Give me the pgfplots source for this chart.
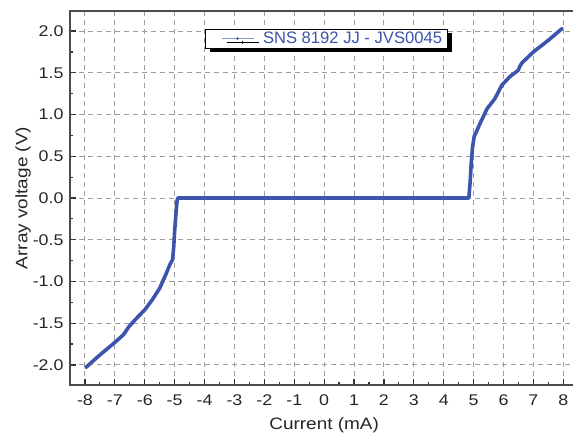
\documentclass[border=0pt]{standalone}
\usepackage{fontspec}
\setmainfont{Liberation Sans}[FakeStretch=1.15]
\newfontfamily\legfont{Liberation Sans}
\usepackage{pgfplots}
\pgfplotsset{compat=1.18}
\usetikzlibrary{shadows}
\definecolor{lineblue}{RGB}{60,84,172}
\begin{document}
\begin{tikzpicture}
\begin{axis}[name=ax,
  scale only axis, width=508.3pt, height=374pt,
  xmin=-8.5, xmax=8.5, ymin=-2.24, ymax=2.24,
  xtick={-8,-7,...,8}, ytick={-2,-1.5,...,2},
  minor x tick num=1, minor y tick num=1,
  tick pos=left, tick align=inside,
  major tick length=6pt, minor tick length=3pt,
  every tick/.style={black!80, line width=1.2pt},
  axis line style={draw=black!70, line width=1.5pt},
  grid=major,
  major grid style={draw=black!38, line width=1pt, dash pattern=on 5pt off 4pt},
  /pgf/number format/assume math mode=true,
  yticklabel style={/pgf/number format/fixed, /pgf/number format/fixed zerofill, /pgf/number format/precision=1, xshift=-3pt},
  xticklabel style={yshift=-6pt},
  tick label style={font=\fontsize{15.5}{18}\selectfont, text=black!85},
  label style={font=\fontsize{16.5}{19}\selectfont, text=black!85},
  xlabel={Current (mA)}, ylabel={Array voltage (V)},
  xlabel style={yshift=-5pt},
  ylabel style={yshift=-5pt},
  legend style={at={(0.266,0.952)}, anchor=north west, draw=black, line width=0.8pt,
    fill=white, font=\legfont\fontsize{16.6}{19}\selectfont, text=lineblue,
    inner xsep=3pt, inner ysep=1pt, outer sep=0pt,
    drop shadow={shadow xshift=5pt, shadow yshift=-4pt, fill=black, opacity=1}},
  legend cell align=left,
]
\addlegendimage{legend image code/.code={
    \path (0pt,0pt) (52pt,0pt);
    \draw[lineblue!60, line width=0.7pt] (13pt,0pt) -- (45pt,0pt);
    \fill[lineblue] (29pt,0pt) circle (0.8pt);
  }}
\addlegendentry{SNS 8192 JJ - JVS0045}
\addplot[lineblue, line width=3.6pt, line join=round, line cap=round, forget plot] coordinates {
(-7.97,-2.03) (-7.5,-1.88) (-7.0,-1.73) (-6.72,-1.64) (-6.62,-1.59) (-6.55,-1.55)
(-6.3,-1.45) (-6.0,-1.34) (-5.75,-1.22) (-5.5,-1.08) (-5.3,-0.92) (-5.15,-0.79)
(-5.07,-0.74) (-5.03,-0.58) (-5.0,-0.40) (-4.96,-0.20) (-4.92,-0.04) (-4.90,0.0)
(0,0) (4.84,0.0) (4.88,0.18) (4.92,0.42) (4.96,0.60) (5.02,0.74) (5.10,0.80)
(5.21,0.89) (5.45,1.07) (5.71,1.19) (5.94,1.35) (6.2,1.45) (6.49,1.53) (6.55,1.58)
(6.62,1.62) (7.0,1.75) (7.5,1.89) (7.96,2.03)
};
\end{axis}
\pgfresetboundingbox
\path (ax.south west) ++(-70pt,-47pt) rectangle ++(573pt,432pt);
\end{tikzpicture}
\end{document}
